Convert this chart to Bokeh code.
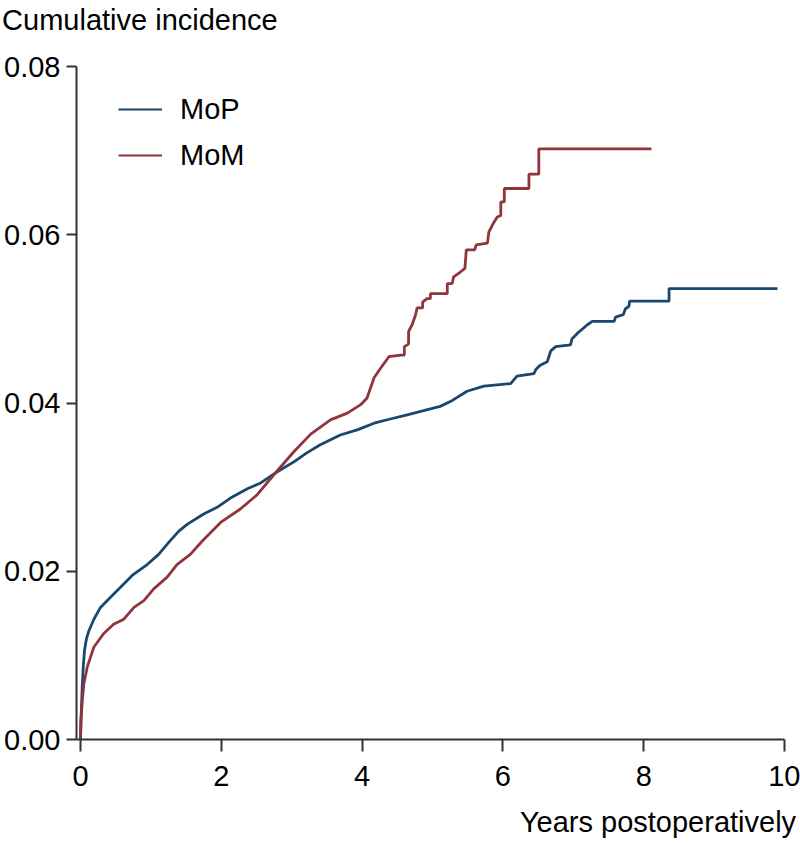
from bokeh.plotting import figure
from bokeh.models import (Range1d, FixedTicker, PrintfTickFormatter, LinearAxis,
                          CustomJSTickFormatter, Legend, LegendItem)
from bokeh.embed import file_html
from bokeh.resources import INLINE

# ---------------- data ----------------
series_names = ["MoP", "MoM"]
series_colors = ["#1a476f", "#90353b"]

mop_t = [0.0, 0.01, 0.024, 0.04, 0.057, 0.085, 0.118, 0.19, 0.284, 0.426, 0.568,
         0.734, 0.947, 1.11, 1.25, 1.40, 1.52, 1.75, 1.94, 2.13, 2.37, 2.56,
         2.79, 3.03, 3.22, 3.40, 3.69, 3.93, 4.17, 4.40, 4.64, 4.97, 5.11,
         5.26, 5.49, 5.73, 6.11, 6.20, 6.44, 6.47, 6.53, 6.63, 6.68, 6.75,
         6.96, 6.98, 7.06, 7.13, 7.20, 7.27, 7.58, 7.60, 7.71, 7.74, 7.79,
         7.80, 8.36, 8.36, 9.90]
mop_v = [0.0, 0.0030, 0.0062, 0.0088, 0.0106, 0.0120, 0.0129, 0.0143, 0.0157,
         0.0169, 0.0181, 0.0195, 0.0208, 0.0220, 0.0234, 0.0248, 0.0256,
         0.0268, 0.0276, 0.0287, 0.0298, 0.0305, 0.0318, 0.0330, 0.0341,
         0.0350, 0.0362, 0.0368, 0.0376, 0.0381, 0.0386, 0.0393, 0.0396,
         0.0402, 0.0414, 0.0420, 0.0423, 0.0432, 0.0435, 0.0440, 0.0445,
         0.0449, 0.0462, 0.0467, 0.0469, 0.0476, 0.0483, 0.0488, 0.0493,
         0.0497, 0.0497, 0.0502, 0.0505, 0.0512, 0.0515, 0.0521, 0.0521,
         0.0536, 0.0536]

mom_t = [0.0, 0.005, 0.03, 0.047, 0.095, 0.19, 0.33, 0.47, 0.615, 0.76, 0.90,
         1.04, 1.23, 1.37, 1.56, 1.73, 1.99, 2.27, 2.51, 2.75, 3.03, 3.27,
         3.55, 3.79, 3.98, 4.07, 4.17, 4.26, 4.38, 4.55, 4.60, 4.60, 4.66,
         4.66, 4.71, 4.76, 4.78, 4.86, 4.86, 4.92, 4.97, 4.97, 5.21, 5.21,
         5.28, 5.30, 5.40, 5.46, 5.48, 5.60, 5.62, 5.78, 5.80, 5.86, 5.92,
         5.97, 5.97, 6.02, 6.02, 6.37, 6.37, 6.51, 6.51, 8.11]
mom_v = [0.0, 0.0023, 0.0050, 0.0066, 0.0086, 0.0110, 0.0126, 0.0137, 0.0143,
         0.0157, 0.0165, 0.0179, 0.0193, 0.0208, 0.0220, 0.0236, 0.0258,
         0.0274, 0.0291, 0.0315, 0.0342, 0.0363, 0.0380, 0.0388, 0.0398,
         0.0406, 0.0430, 0.0441, 0.0455, 0.0457, 0.0457, 0.0467, 0.0470,
         0.0485, 0.0493, 0.0505, 0.0513, 0.0513, 0.0520, 0.0524, 0.0524,
         0.0530, 0.0530, 0.0542, 0.0542, 0.0550, 0.0556, 0.0560, 0.0582,
         0.0582, 0.0588, 0.0590, 0.0603, 0.0613, 0.0621, 0.0623, 0.0639,
         0.0639, 0.0655, 0.0655, 0.0672, 0.0672, 0.0702, 0.0702]

x_ticks = [0, 2, 4, 6, 8, 10]
y_ticks = [0.0, 0.02, 0.04, 0.06, 0.08]
y_title = "Cumulative incidence"
x_title = "Years postoperatively"

# ---------------- layout ----------------
FONT = "Liberation Sans"
FS = "29px"
W, H = 800, 843
BL, BR, BT, BB = 76, 16, 64, 104
X0, X1 = -0.057, 10.0
Y0, Y1 = 0.0, 0.08
AXC = "#333333"
Y_TITLE_POS = 0.844   # x position (data units) where the top-left title is centred
X_TITLE_POS = 8.203   # x position (data units) where the bottom title is centred

p = figure(width=W, height=H, output_backend="svg", toolbar_location=None,
           x_range=Range1d(X0, X1), y_range=Range1d(Y0, Y1),
           min_border_left=BL, min_border_right=BR,
           min_border_top=BT, min_border_bottom=BB)
p.outline_line_color = None
p.xgrid.visible = False
p.ygrid.visible = False
p.background_fill_color = "white"
p.border_fill_color = "white"

for ax in (p.xaxis[0], p.yaxis[0]):
    ax.axis_line_color = AXC
    ax.axis_line_width = 2
    ax.major_tick_line_color = AXC
    ax.major_tick_line_width = 2
    ax.major_tick_in = 0
    ax.minor_tick_line_color = None
    ax.major_label_text_font = FONT
    ax.major_label_text_font_size = FS
    ax.major_label_text_color = "black"

p.xaxis[0].ticker = FixedTicker(ticks=x_ticks)
p.yaxis[0].ticker = FixedTicker(ticks=y_ticks)
p.yaxis[0].formatter = PrintfTickFormatter(format="%.2f")
p.xaxis[0].major_tick_out = 12
p.yaxis[0].major_tick_out = 10
p.xaxis[0].major_label_standoff = 14
p.yaxis[0].major_label_standoff = 6


def title_axis(text, pos, standoff):
    ax = LinearAxis(ticker=FixedTicker(ticks=[pos]),
                    formatter=CustomJSTickFormatter(code="return %r;" % text))
    ax.axis_line_color = None
    ax.major_tick_line_color = None
    ax.minor_tick_line_color = None
    ax.major_tick_in = 0
    ax.major_tick_out = 0
    ax.major_label_standoff = standoff
    ax.major_label_text_font = FONT
    ax.major_label_text_font_size = FS
    ax.major_label_text_color = "black"
    return ax


p.add_layout(title_axis(y_title, Y_TITLE_POS, 31), "above")
p.add_layout(title_axis(x_title, X_TITLE_POS, 17), "below")

# curves
p.line(mop_t, mop_v, line_color=series_colors[0], line_width=2.8)
p.line(mom_t, mom_v, line_color=series_colors[1], line_width=2.8)

# legend (thin sample lines, renderers hold no visible data)
nan = float("nan")
leg_r = [p.line(x=[nan], y=[nan], line_color=c, line_width=2) for c in series_colors]
legend = Legend(items=[LegendItem(label=n, renderers=[r]) for n, r in zip(series_names, leg_r)],
                location=(42, 564), orientation="vertical", padding=0, margin=0,
                spacing=6, glyph_width=44, glyph_height=40, label_height=40,
                label_standoff=18, label_text_font=FONT, label_text_font_size=FS,
                label_text_color="black", border_line_color=None,
                background_fill_alpha=0)
p.add_layout(legend)

open("out.html", "w").write(file_html(p, INLINE))
